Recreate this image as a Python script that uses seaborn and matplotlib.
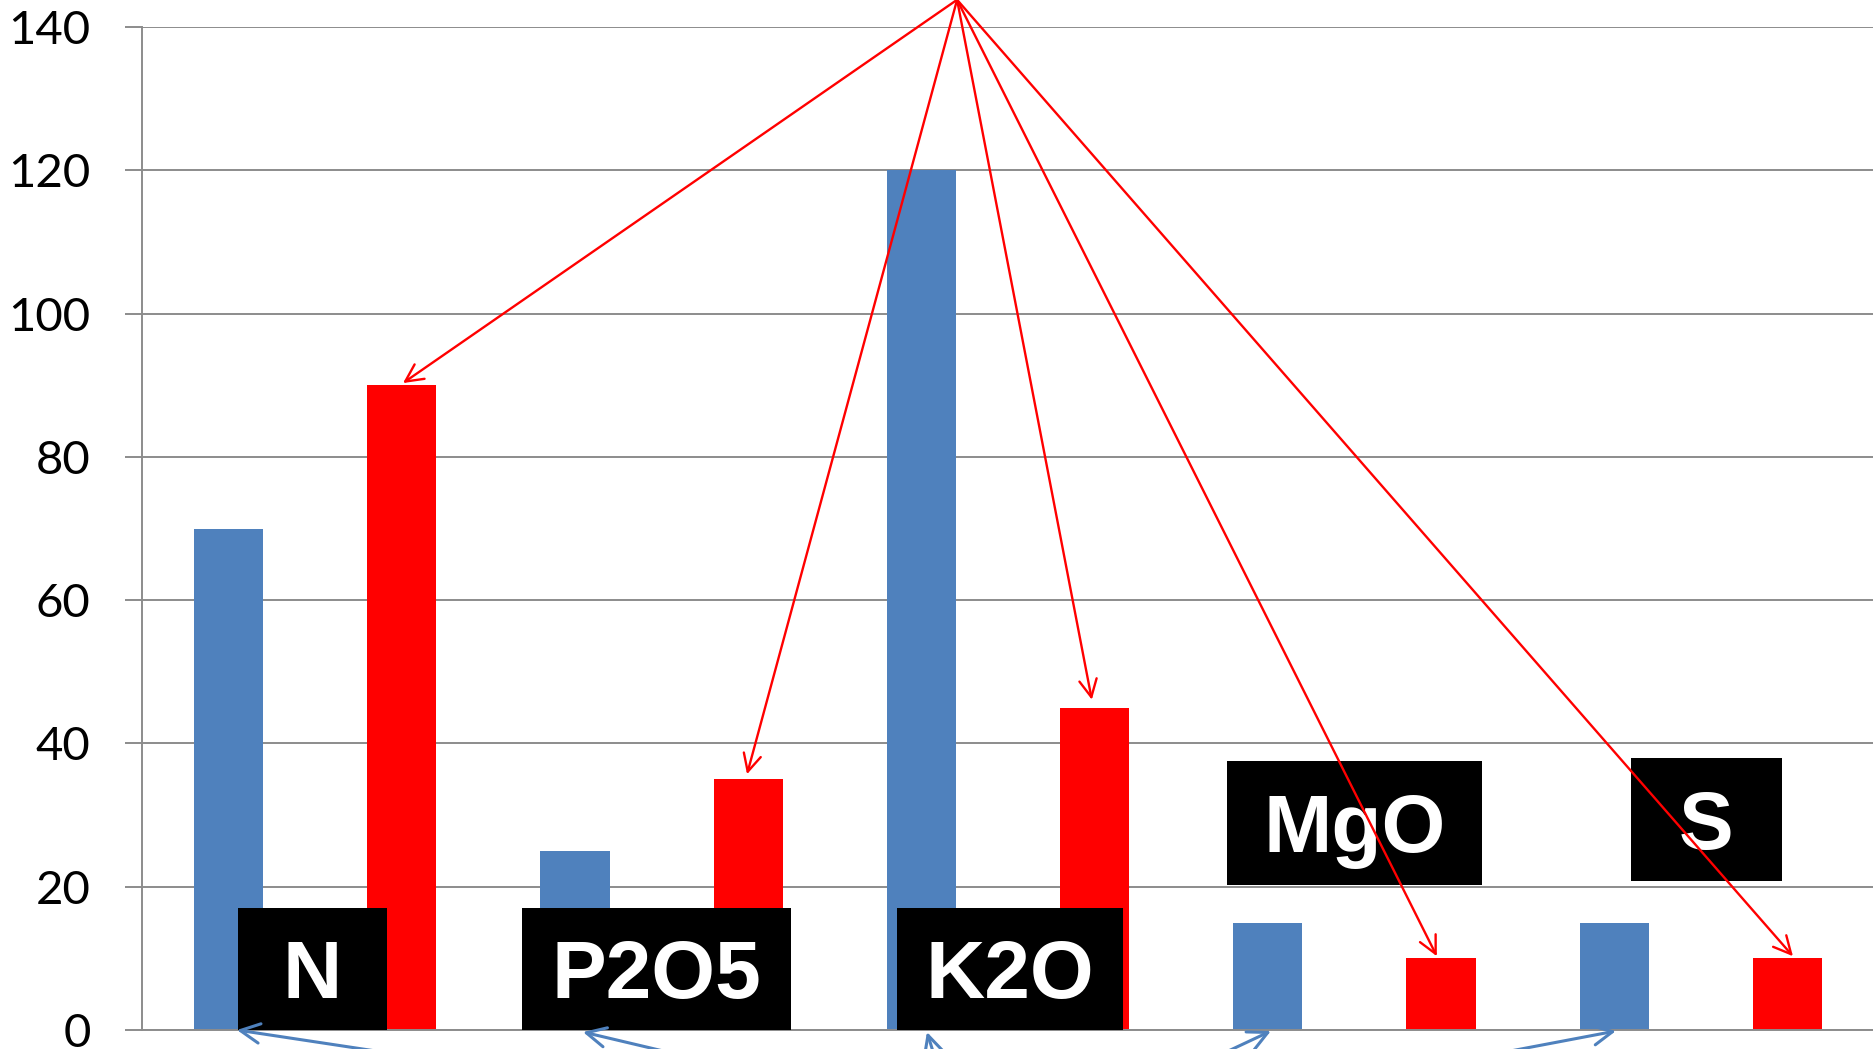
import matplotlib
matplotlib.use("Agg")
import numpy as np
import pandas as pd
import matplotlib.pyplot as plt
import seaborn as sns
from matplotlib.patches import Rectangle

# Data
nutrients = ["N", "P2O5", "K2O", "MgO", "S"]
blue_vals = [70, 25, 120, 15, 15]
red_vals = [90, 35, 45, 10, 10]
series_names = ["Serie 1", "Serie 2"]
y_ticks = [0, 20, 40, 60, 80, 100, 120, 140]

# black label boxes (data coords)
box_x0 = [-0.223, 0.597, 1.680, 2.632, 3.798]
box_x1 = [0.207, 1.374, 2.332, 3.368, 4.234]
box_y0 = [0, 0, 0, 20.3, 20.8]
box_y1 = [17, 17, 17, 37.5, 38.0]

# red arrows: one origin above the plot, tips on the red bars
red_origin = (1.853, 143.8)
red_tip_x = [0.2535, 1.2466, 2.242, 3.238, 4.266]
red_tip_y = [90.3, 35.7, 46.1, 10.3, 10.3]

# blue arrows: come from below the figure to the blue bars
blue_tip_x = [-0.226, 0.773, 1.766, 2.759, 3.755]
blue_tip_y = [0.0, -0.28, -0.28, -0.14, -0.14]
blue_tail_x = [0.923, 1.483, 1.818, 2.395, 2.854]
blue_tail_y = [-8.4, -8.4, -8.4, -8.4, -8.4]

BLUE = "#4F81BD"
RED = "#FF0000"
GRID = "#8C8C8C"

df = pd.DataFrame({
    "nutrient": nutrients * 2,
    "series": [series_names[0]] * len(nutrients) + [series_names[1]] * len(nutrients),
    "value": blue_vals + red_vals,
})

sns.set_theme(style="white")
plt.rcParams["font.family"] = ["Lato", "DejaVu Sans"]

fig = plt.figure(figsize=(18.74, 10.49), dpi=100)
ax = fig.add_axes([142 / 1874, 19 / 1049, 1 - 142 / 1874, (1030 - 27) / 1049])

sns.barplot(data=df, x="nutrient", y="value", hue="series", order=nutrients,
            palette=[BLUE, RED], width=1.0, gap=0.6, saturation=1,
            linewidth=0, legend=False, ax=ax, zorder=2)

ax.set_xlim(-0.5, 4.5)
ax.set_ylim(0, 140)
ax.set_yticks(y_ticks)
ax.set_xlabel("")
ax.set_ylabel("")
ax.yaxis.grid(True, color=GRID, linewidth=1.4, zorder=0)
ax.set_axisbelow(True)
ax.tick_params(axis="x", length=0, labelbottom=False)
ax.tick_params(axis="y", length=12, width=1.4, color=GRID, pad=25,
               labelsize=34, labelcolor="black", direction="out", left=True)
for s in ["top", "right"]:
    ax.spines[s].set_visible(False)
for s in ["left", "bottom"]:
    ax.spines[s].set_color(GRID)
    ax.spines[s].set_linewidth(1.4)

# label boxes
for i, name in enumerate(nutrients):
    ax.add_patch(Rectangle((box_x0[i], box_y0[i]), box_x1[i] - box_x0[i],
                           box_y1[i] - box_y0[i], facecolor="black",
                           edgecolor="none", zorder=4, clip_on=False))
    cx = (box_x0[i] + box_x1[i]) / 2
    cy = (box_y0[i] + box_y1[i]) / 2
    ax.text(cx, cy - 4.1, name, color="white", fontsize=59, fontweight="bold",
            family=["Liberation Sans", "DejaVu Sans"], ha="center", va="baseline",
            zorder=5)

# red arrows
for tx, ty in zip(red_tip_x, red_tip_y):
    ax.annotate("", xy=(tx, ty), xytext=red_origin,
                arrowprops=dict(arrowstyle="->,head_length=0.9,head_width=0.45",
                                color=RED, lw=1.7, mutation_scale=14,
                                shrinkA=0, shrinkB=0),
                zorder=6, annotation_clip=False)

# blue arrows
for tx, ty, sx, sy in zip(blue_tip_x, blue_tip_y, blue_tail_x, blue_tail_y):
    ax.annotate("", xy=(tx, ty), xytext=(sx, sy),
                arrowprops=dict(arrowstyle="->,head_length=1.0,head_width=0.5",
                                color=BLUE, lw=2.2, mutation_scale=14,
                                shrinkA=0, shrinkB=0),
                zorder=6, annotation_clip=False)

fig.savefig("out.png", dpi=100)
